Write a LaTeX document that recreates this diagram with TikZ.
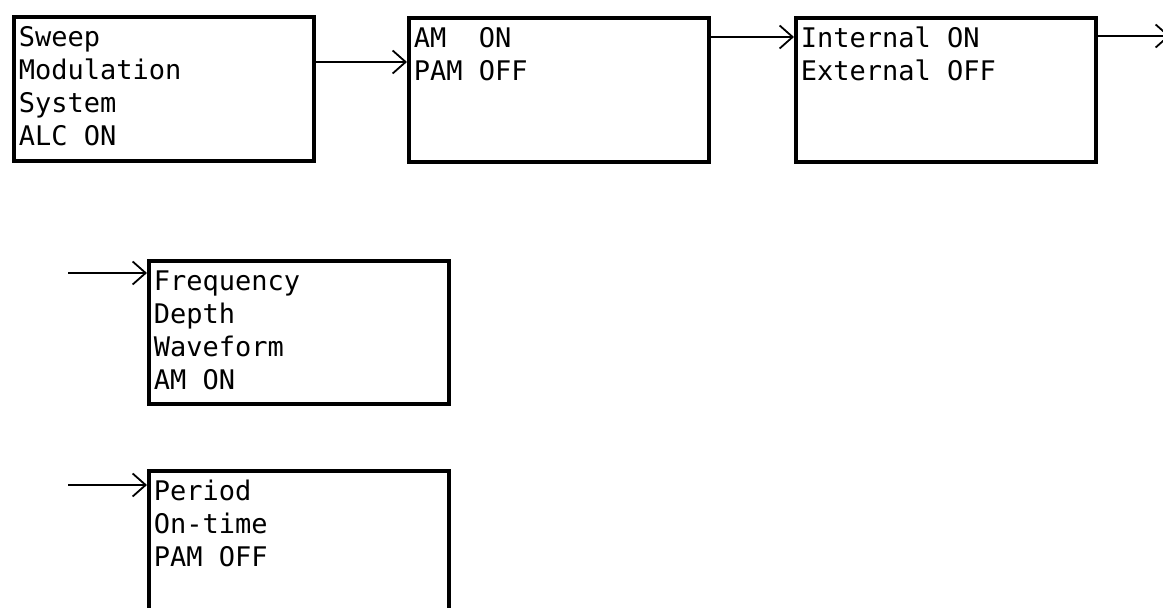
\documentclass[tikz,border=0pt]{standalone}
\usepackage{fontspec}
\newfontfamily\lcdfont{DejaVu Sans Mono}
\usetikzlibrary{arrows.meta}
\tikzset{
  box/.style={draw, line width=1.9pt, inner xsep=2.5pt, inner ysep=3.25pt,
    anchor=north west, font=\lcdfont\fontsize{13.5pt}{16.5pt}\selectfont},
  link/.style={line width=0.9pt, -{Straight Barb[length=6.5pt,width=11.5pt,line width=0.9pt]}}
}
\newcommand\boxtext[2]{\parbox[c][#1][t]{145pt}{\raggedright\strut #2}}
\begin{document}
\begin{tikzpicture}[x=0.5pt,y=-0.5pt]
\useasboundingbox (0,0) rectangle (1163,608);
\node[box] (b1) at (12,15.5) {\boxtext{65.5pt}{Sweep\\Modulation\\System\\ALC ON}};
\node[box] (b2) at (407,16) {\boxtext{65.5pt}{AM\ \ ON\\PAM OFF}};
\node[box] (b3) at (794,16) {\boxtext{65.5pt}{Internal ON\\External OFF}};
\node[box] (b4) at (147,259.5) {\boxtext{65pt}{Frequency\\Depth\\Waveform\\AM ON}};
\node[box] (b5) at (147,469) {\boxtext{75pt}{Period\\On-time\\PAM OFF}};
\coordinate (out3) at (1170,36);
\coordinate (in4) at (68,273);
\coordinate (in5) at (68,485);
\draw[link] (b1.east |- 0,62) -- (b2.west |- 0,62);
\draw[link] (b2.east |- 0,37) -- (b3.west |- 0,37);
\draw[link] (b3.east |- out3) -- (out3);
\draw[link] (in4) -- (b4.west |- in4);
\draw[link] (in5) -- (b5.west |- in5);
\end{tikzpicture}
\end{document}
